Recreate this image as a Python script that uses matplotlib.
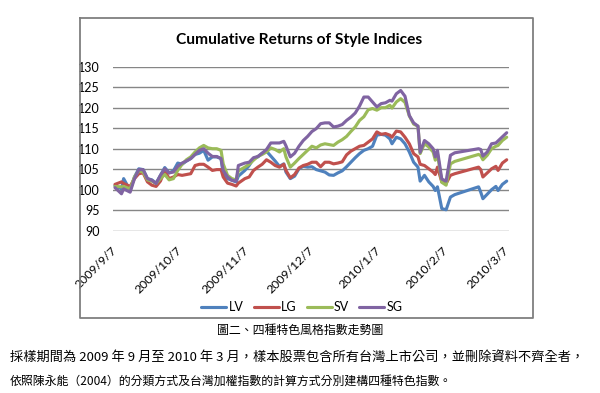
import matplotlib
matplotlib.use("Agg")
import matplotlib.pyplot as plt
import matplotlib.dates as mdates
from matplotlib.lines import Line2D
import pandas as pd

# sample dates and index levels
DATES = [
    "2009-09-07", "2009-09-10", "2009-09-11", "2009-09-14", "2009-09-16", "2009-09-18",
    "2009-09-20", "2009-09-22", "2009-09-24", "2009-09-26", "2009-09-28", "2009-09-30",
    "2009-10-02", "2009-10-04", "2009-10-06", "2009-10-08", "2009-10-10", "2009-10-12",
    "2009-10-14", "2009-10-16", "2009-10-18", "2009-10-20", "2009-10-22", "2009-10-24",
    "2009-10-26", "2009-10-27", "2009-10-29", "2009-10-31", "2009-11-02", "2009-11-03",
    "2009-11-06", "2009-11-08", "2009-11-10", "2009-11-12", "2009-11-14", "2009-11-16",
    "2009-11-18", "2009-11-20", "2009-11-22", "2009-11-24", "2009-11-25", "2009-11-27",
    "2009-11-29", "2009-12-01", "2009-12-03", "2009-12-05", "2009-12-07", "2009-12-09",
    "2009-12-11", "2009-12-13", "2009-12-15", "2009-12-17", "2009-12-19", "2009-12-21",
    "2009-12-23", "2009-12-25", "2009-12-27", "2009-12-29", "2009-12-31", "2010-01-02",
    "2010-01-04", "2010-01-06", "2010-01-08", "2010-01-10", "2010-01-12", "2010-01-13",
    "2010-01-15", "2010-01-17", "2010-01-19", "2010-01-21", "2010-01-23", "2010-01-25",
    "2010-01-26", "2010-01-28", "2010-01-30", "2010-02-01", "2010-02-02", "2010-02-03",
    "2010-02-05", "2010-02-07", "2010-02-09", "2010-02-11", "2010-02-22", "2010-02-23",
    "2010-02-24", "2010-02-26", "2010-02-28", "2010-03-02", "2010-03-03", "2010-03-05",
    "2010-03-07",
]

LV = [101.0, 100.2, 102.7, 99.8, 103.1, 105.1, 104.9, 102.7, 102.4, 101.6,
      103.5, 105.4, 104.1, 104.6, 106.5, 106.2, 107.0, 107.6, 108.6, 108.9,
      109.6, 107.2, 108.0, 108.0, 107.6, 103.9, 102.7, 102.3, 101.9, 103.3,
      104.7, 105.9, 107.6, 108.0, 108.9, 109.4, 108.2, 107.0, 105.7, 106.3,
      104.3, 102.7, 103.3, 105.1, 105.7, 105.5, 105.6, 104.9, 104.6, 104.3,
      103.6, 103.5, 104.1, 104.6, 105.6, 106.7, 107.8, 108.8, 109.6, 110.0,
      110.6, 113.3, 113.5, 113.3, 112.4, 111.2, 112.8, 112.4, 111.2, 109.2,
      106.7, 105.5, 102.1, 103.5, 101.9, 100.8, 99.8, 100.7, 95.4, 95.1,
      98.2, 98.8, 100.7, 99.4, 97.8, 98.9, 100.0, 100.8, 99.8, 101.3, 102.1]

LG = [101.3, 101.9, 101.5, 100.8, 102.7, 103.9, 104.1, 101.9, 101.1, 100.8,
      102.1, 104.7, 102.7, 103.1, 103.7, 103.5, 103.7, 103.9, 105.9, 106.2,
      106.2, 105.5, 104.7, 104.9, 104.9, 103.1, 101.6, 101.3, 100.9, 101.6,
      102.7, 103.1, 104.7, 105.5, 106.2, 107.3, 106.7, 105.9, 105.5, 106.2,
      104.7, 102.9, 103.7, 105.3, 105.9, 106.2, 106.7, 106.7, 105.6, 106.7,
      106.7, 106.3, 106.5, 106.8, 108.5, 109.4, 110.0, 110.6, 110.8, 111.6,
      112.4, 114.1, 113.5, 113.7, 113.3, 112.8, 114.3, 114.1, 112.8, 111.2,
      108.8, 108.0, 106.2, 105.9, 105.1, 104.3, 103.7, 105.5, 101.9, 101.5,
      103.5, 103.9, 105.5, 104.9, 103.1, 104.1, 105.1, 105.7, 104.7, 106.5, 107.3]

SV = [100.8, 100.7, 100.8, 100.2, 103.1, 104.6, 104.3, 102.4, 102.1, 101.5,
      102.7, 103.7, 102.4, 102.7, 104.7, 106.2, 107.3, 108.0, 109.2, 110.2,
      110.8, 110.2, 110.0, 110.0, 109.6, 106.3, 103.5, 102.7, 102.4, 104.6,
      105.5, 106.2, 107.2, 108.1, 108.6, 109.2, 110.2, 109.8, 109.2, 110.0,
      108.0, 105.5, 106.5, 107.6, 108.6, 109.6, 110.6, 110.2, 110.9, 111.2,
      111.0, 110.8, 111.6, 112.2, 113.0, 114.2, 115.3, 116.9, 117.8, 119.5,
      119.8, 119.4, 120.0, 120.0, 120.6, 119.9, 121.4, 122.2, 121.3, 118.0,
      116.0, 115.5, 108.8, 111.2, 110.4, 109.2, 107.2, 108.8, 101.8, 101.1,
      106.3, 106.9, 108.6, 108.3, 107.3, 108.4, 110.0, 110.6, 110.8, 112.0, 112.8]

SG = [100.5, 99.0, 100.2, 99.4, 102.7, 104.9, 104.9, 102.7, 102.3, 101.5,
      103.5, 105.1, 104.1, 104.3, 105.7, 106.5, 107.0, 107.6, 108.6, 109.6,
      110.0, 108.9, 108.1, 108.1, 107.6, 104.7, 103.1, 102.3, 102.1, 105.9,
      106.5, 106.7, 107.8, 108.1, 108.9, 109.8, 111.4, 111.4, 111.4, 111.8,
      110.7, 108.0, 108.9, 110.6, 112.0, 113.0, 114.2, 114.9, 116.1, 116.3,
      116.3, 115.3, 115.5, 115.9, 116.9, 117.7, 118.7, 120.4, 122.6, 122.6,
      121.4, 120.2, 121.0, 121.2, 121.8, 121.6, 123.4, 124.2, 122.8, 118.1,
      116.3, 115.5, 109.1, 112.0, 111.2, 110.0, 108.0, 109.6, 102.6, 102.1,
      108.4, 109.0, 110.0, 109.8, 108.2, 109.2, 111.2, 111.4, 111.9, 112.9, 113.9]

SERIES = ["LV", "LG", "SV", "SG"]
COLORS = ["#4F81BD", "#C0504D", "#9BBB59", "#8064A2"]

TICK_DATES = ["2009-09-07", "2009-10-07", "2009-11-07", "2009-12-07",
              "2010-01-07", "2010-02-07", "2010-03-07"]
TICK_LABELS = ["2009/9/7", "2009/10/7", "2009/11/7", "2009/12/7",
               "2010/1/7", "2010/2/7", "2010/3/7"]
Y_TICKS = [90, 95, 100, 105, 110, 115, 120, 125, 130]

TITLE = "Cumulative Returns of Style Indices"
CAPTION = "圖二、四種特色風格指數走勢圖"
NOTE_1 = "採樣期間為 2009 年 9 月至 2010 年 3 月，樣本股票包含所有台灣上市公司，並刪除資料不齊全者，"
NOTE_2 = "依照陳永能（2004）的分類方式及台灣加權指數的計算方式分別建構四種特色指數。"

W, H = 600, 393
CJK = ["Noto Sans CJK TC", "DejaVu Sans"]
plt.rcParams["font.family"] = ["Lato", "DejaVu Sans"]

fig = plt.figure(figsize=(W / 100, H / 100), dpi=100)

# chart frame in figure pixels
fx0, fx1, fy0, fy1 = 80, 533, 18, 318
frame_x = [fx0 / W, fx1 / W, fx1 / W, fx0 / W, fx0 / W]
frame_y = [1 - fy0 / H, 1 - fy0 / H, 1 - fy1 / H, 1 - fy1 / H, 1 - fy0 / H]
fig.add_artist(Line2D(frame_x, frame_y, transform=fig.transFigure,
                      color="#7F7F7F", linewidth=1.3, zorder=10))

ax = fig.add_axes([113 / W, 1 - 230.7 / H, (509 - 113) / W, (230.7 - 66.7) / H])
ax.patch.set_alpha(0)
dates = pd.to_datetime(DATES)
for name, vals, col in zip(SERIES, [LV, LG, SV, SG], COLORS):
    ax.plot(dates, vals, color=col, linewidth=2.25, label=name,
            solid_joinstyle="round", solid_capstyle="round")

ax.set_ylim(90, 130)
ax.set_yticks(Y_TICKS)
ax.set_yticklabels([str(v) for v in Y_TICKS])
t0 = mdates.date2num(pd.Timestamp("2009-09-07"))
t1 = mdates.date2num(pd.Timestamp("2010-03-07"))
ax.set_xlim(t0 - 0.92, t1 + 1.06)
ax.set_xticks(pd.to_datetime(TICK_DATES))
ax.set_xticklabels(TICK_LABELS, rotation=45, ha="right", va="center",
                   rotation_mode="anchor")
ax.grid(axis="y", color="#868686", linewidth=1.0)
ax.set_axisbelow(True)
for s in ax.spines.values():
    s.set_visible(False)
ax.tick_params(axis="both", length=0, labelsize=9, colors="black")
ax.tick_params(axis="x", labelsize=8.8, pad=13)
ax.tick_params(axis="y", pad=9.4)

fig.text(0.498, 1 - 40 / H, TITLE, ha="center", va="center",
         fontsize=11.2, fontweight="bold")

handles, labels = ax.get_legend_handles_labels()
fig.legend(handles, labels, loc="center", bbox_to_anchor=(302 / W, 1 - 307 / H),
           ncol=4, frameon=False, fontsize=9, handlelength=2.0,
           handletextpad=0.2, columnspacing=0.8)

fig.text(0.5, 1 - 330 / H, CAPTION, ha="center", va="center", fontsize=8.6, family=CJK)
fig.text(10 / W, 1 - 357 / H, NOTE_1, ha="left", va="center", fontsize=9.5, family=CJK)
fig.text(10 / W, 1 - 381 / H, NOTE_2, ha="left", va="center", fontsize=8.6, family=CJK)

fig.savefig("out.png", dpi=100)
